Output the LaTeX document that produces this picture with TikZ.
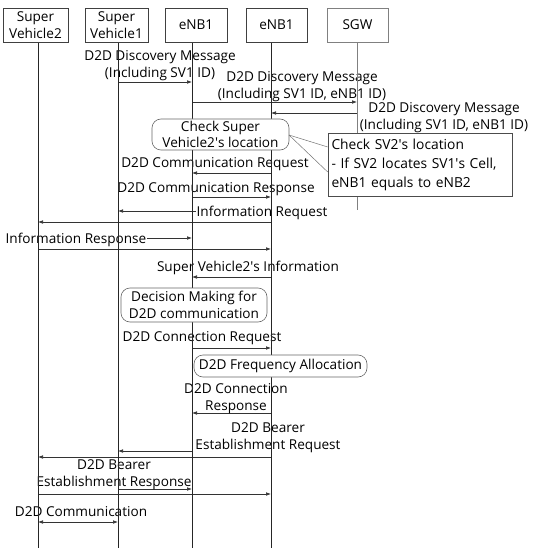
\documentclass[tikz,border=0pt]{standalone}
\usepackage{fontspec}
\setmainfont{Open Sans}
\usetikzlibrary{arrows.meta}
\newcommand{\apos}{\textquotesingle}
\begin{document}
\begin{tikzpicture}[x=1pt,y=-1pt,
  txt/.style={font=\fontsize{13.6}{16.8}\selectfont},
  lbl/.style={txt,align=center,inner sep=0.4pt,yshift=-2pt},
  cover/.style={fill=white},
  msg/.style={draw=black!80,line width=0.6pt,-{Latex[length=5pt,width=3.6pt]}},
  both/.style={draw=black!80,line width=0.6pt,{Latex[length=5pt,width=3.6pt]}-{Latex[length=5pt,width=3.6pt]}},
  life/.style={draw=black!85,line width=0.6pt},
  head/.style={txt,draw=black!75,fill=white,line width=0.6pt,align=center,inner sep=0pt,minimum height=34pt},
  proc/.style={txt,draw=black!60,fill=white,line width=0.6pt,align=center,inner sep=0pt,rounded corners=9pt},
  notebox/.style={draw=black!70,fill=white,line width=0.6pt,align=left,inner sep=3pt},
  wedge/.style={draw=black!55,line width=0.5pt}]
\useasboundingbox (0,0) rectangle (533,548);

% lifeline anchors (bottom of the header boxes)
\coordinate (sv2)  at (38,42);
\coordinate (sv1)  at (118,42);
\coordinate (enbA) at (192,42);
\coordinate (enbB) at (271,42);
\coordinate (sgw)  at (357,42);

% messages
\draw[msg] (sv1  |- 0,82)  -- (enbA |- 0,82);
\draw[msg] (enbA |- 0,102) -- (sgw  |- 0,102);
\draw[msg] (sgw  |- 0,113) -- (enbB |- 0,113);
\draw[msg] (enbB |- 0,173) -- (enbA |- 0,173);
\draw[msg] (enbA |- 0,197) -- (enbB |- 0,197);
\draw[msg] (enbB |- 0,211) -- (sv1  |- 0,211);
\draw[msg] (enbB |- 0,222) -- (sv2  |- 0,222);
\draw[msg] (sv1  |- 0,238) -- (enbA |- 0,238);
\draw[msg] (sv2  |- 0,249) -- (enbB |- 0,249);
\draw[msg] (enbB |- 0,277) -- (enbA |- 0,277);
\draw[msg] (enbA |- 0,348) -- (enbB |- 0,348);
\draw[msg] (enbB |- 0,413) -- (enbA |- 0,413);
\draw[msg] (enbA |- 0,451) -- (sv1  |- 0,451);
\draw[msg] (enbB |- 0,457) -- (sv2  |- 0,457);
\draw[msg] (sv1  |- 0,489) -- (enbA |- 0,489);
\draw[msg] (sv2  |- 0,494) -- (enbB |- 0,494);
\draw[both] (sv2 |- 0,522) -- (sv1 |- 0,522);

% message labels
\node[lbl] (m1)  at (160,63.5) {D2D Discovery Message\\(Including SV1 ID)};
\node[lbl] (m2)  at (302,84.5) {D2D Discovery Message\\(Including SV1 ID, eNB1 ID)};
\node[lbl] (m3)  at (444,116)  {D2D Discovery Message\\(Including SV1 ID, eNB1 ID)};
\node[lbl] (m4)  at (215,162)  {D2D Communication Request};
\node[lbl] (m5)  at (216,187)  {D2D Communication Response};
\node[lbl,cover] (m6)  at (262,211)  {Information Request};
\node[lbl,cover] (m7)  at (76,238)   {Information Response};
\node[lbl] (m8)  at (248,266)  {Super Vehicle2\apos s Information};
\node[lbl] (m9)  at (202,336)  {D2D Connection Request};
\node[lbl] (m10) at (236,396.5) {D2D Connection\\Response};
\node[lbl] (m11) at (268,436)  {D2D Bearer\\Establishment Request};
\node[lbl] (m12) at (114,473)  {D2D Bearer\\Establishment Response};
\node[lbl] (m13) at (81,510)   {D2D Communication};

% lifelines
\draw[life] (sv2)  -- (sv2  |- 0,548);
\draw[life] (sv1)  -- (sv1  |- 0,548);
\draw[life] (enbA) -- (enbA |- 0,548);
\draw[life] (enbB) -- (enbB |- 0,548);
\draw[life,draw=black!50] (sgw) -- (sgw |- 0,210);

% header boxes
\node[head,minimum width=65pt] (hsv2)  at (35.5,25)  {Super\\Vehicle2};
\node[head,minimum width=63pt] (hsv1)  at (116.5,25) {Super\\Vehicle1};
\node[head,minimum width=62pt] (henbA) at (196,25)   {eNB1};
\node[head,minimum width=61pt] (henbB) at (276.5,25) {eNB1};
\node[head,minimum width=61pt,draw=black!50] (hsgw) at (357.5,25) {SGW};

% processing steps
\node[proc,minimum width=137pt,minimum height=31pt] (check) at (220.5,134.5) {Check Super\\Vehicle2\apos s location};
\node[proc,minimum width=146pt,minimum height=34pt] (decide) at (194,305) {Decision Making for\\D2D communication};
\node[proc,minimum width=173pt,minimum height=22pt] (freq) at (280.5,366) {D2D Frequency Allocation};

% note with its pointer
\node[notebox,minimum width=184pt,minimum height=63pt,text width=177pt,font=\fontsize{13.8}{19}\selectfont] (note) at (420,164.5)
  {Check SV2\apos s location\\- If SV2 locates SV1\apos s Cell,\\eNB1 equals to eNB2};
\coordinate (tip) at (289,135);
\draw[wedge] (tip) -- (note.west |- 0,147);
\draw[wedge] (tip) -- (note.west |- 0,172);
\end{tikzpicture}
\end{document}
